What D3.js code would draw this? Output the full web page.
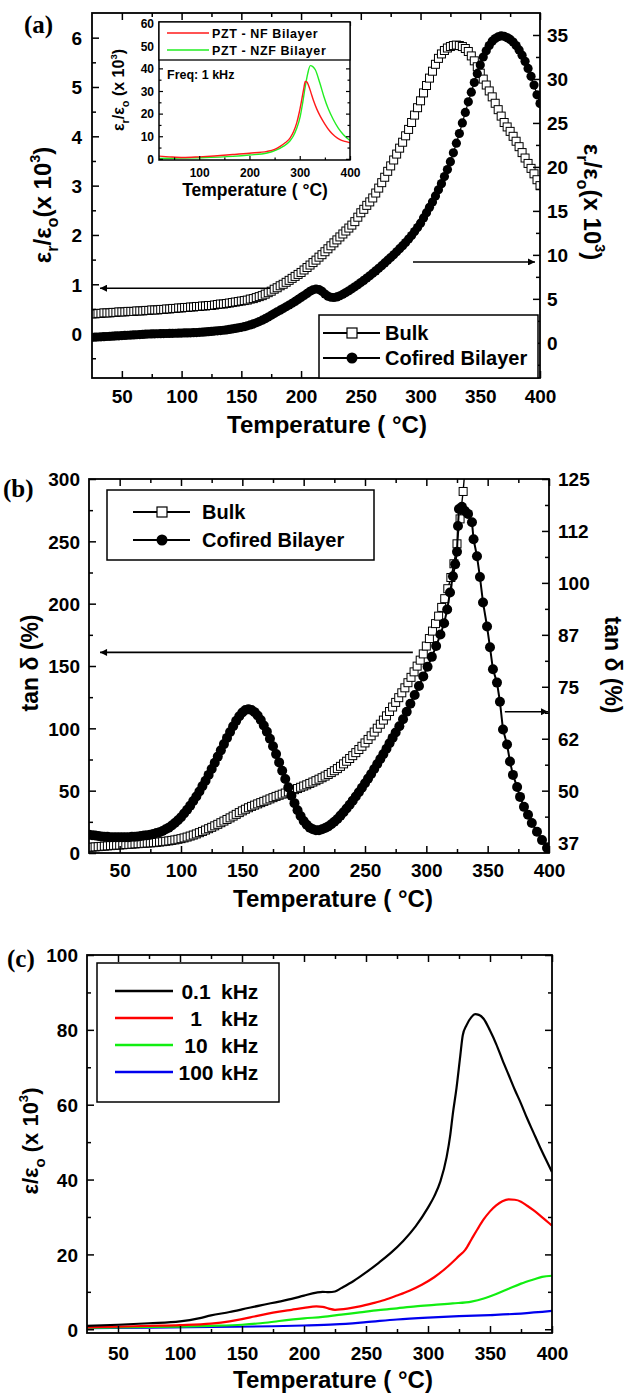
<!DOCTYPE html>
<html><head><meta charset="utf-8">
<script src="https://cdn.jsdelivr.net/npm/d3@7"></script>
<style>body{margin:0;background:#fff}</style>
</head><body><svg id="c" width="625" height="1395"></svg>
<script>
// ---------------- DATA ----------------
const tGrid = [25,27.5,30,32.5,35,37.5,40,42.5,45,47.5,
50,52.5,55,57.5,60,62.5,65,67.5,70,72.5,
75,77.5,80,82.5,85,87.5,90,92.5,95,97.5,
100,102.5,105,107.5,110,112.5,115,117.5,120,122.5,
125,127.5,130,132.5,135,137.5,140,142.5,145,147.5,
150,152.5,155,157.5,160,162.5,165,167.5,170,172.5,
175,177.5,180,182.5,185,187.5,190,192.5,195,197.5,
200,202.5,205,207.5,210,212.5,215,217.5,220,222.5,
225,227.5,230,232.5,235,237.5,240,242.5,245,247.5,
250,252.5,255,257.5,260,262.5,265,267.5,270,272.5,
275,277.5,280,282.5,285,287.5,290,292.5,295,297.5,
300,302.5,305,307.5,310,312.5,315,317.5,320,322.5,
325,327.5,330,332.5,335,337.5,340,342.5,345,347.5,
350,352.5,355,357.5,360,362.5,365,367.5,370,372.5,
375,377.5,380,382.5,385,387.5,390,392.5,395,397.5,
400];

// (a) Bulk, left axis (x 10^3)
const bulkA = [0.40,0.40,0.41,0.41,0.42,0.42,0.42,0.43,0.43,0.44,
0.44,0.44,0.45,0.45,0.45,0.46,0.46,0.46,0.47,0.47,
0.48,0.48,0.48,0.49,0.49,0.50,0.50,0.51,0.51,0.52,
0.52,0.53,0.53,0.54,0.54,0.55,0.55,0.56,0.56,0.57,
0.57,0.58,0.59,0.60,0.60,0.61,0.62,0.63,0.64,0.65,
0.66,0.67,0.68,0.70,0.71,0.73,0.75,0.77,0.80,0.83,
0.86,0.90,0.93,0.97,1.00,1.04,1.08,1.12,1.16,1.20,
1.24,1.29,1.34,1.39,1.44,1.49,1.55,1.60,1.66,1.72,
1.78,1.84,1.90,1.96,2.02,2.08,2.14,2.20,2.27,2.36,
2.45,2.52,2.60,2.67,2.75,2.85,2.95,3.06,3.17,3.29,
3.40,3.52,3.64,3.76,3.88,4.01,4.14,4.28,4.43,4.58,
4.72,4.88,5.03,5.18,5.32,5.46,5.58,5.67,5.74,5.79,
5.82,5.84,5.85,5.84,5.82,5.78,5.72,5.63,5.53,5.41,
5.28,5.16,5.04,4.92,4.80,4.67,4.54,4.41,4.28,4.19,
4.10,4.00,3.90,3.79,3.67,3.56,3.45,3.35,3.24,3.12,
3.00];

// (a) Cofired bilayer, right axis (x 10^3)
const cofA = [0.62,0.64,0.66,0.68,0.70,0.72,0.74,0.76,0.78,0.80,
0.82,0.84,0.86,0.88,0.90,0.92,0.94,0.96,0.98,1.00,
1.01,1.02,1.03,1.04,1.05,1.06,1.07,1.08,1.09,1.10,
1.11,1.12,1.13,1.14,1.15,1.17,1.19,1.21,1.24,1.27,
1.30,1.33,1.36,1.39,1.43,1.47,1.52,1.58,1.64,1.70,
1.76,1.84,1.93,2.03,2.15,2.28,2.42,2.57,2.74,2.93,
3.13,3.33,3.52,3.71,3.90,4.10,4.30,4.50,4.71,4.93,
5.16,5.38,5.62,5.85,6.03,6.12,6.05,5.85,5.55,5.30,
5.18,5.15,5.22,5.35,5.52,5.71,5.92,6.14,6.37,6.60,
6.85,7.10,7.36,7.62,7.90,8.18,8.47,8.77,9.08,9.40,
9.70,10.0,10.35,10.7,11.05,11.4,11.8,12.2,12.65,13.1,
13.6,14.2,14.8,15.4,16.0,16.7,17.4,18.1,18.9,19.7,
20.6,21.6,22.7,23.8,25.0,26.2,27.4,28.5,29.6,30.6,
31.6,32.5,33.2,33.8,34.3,34.6,34.8,34.9,34.85,34.7,
34.5,34.2,33.8,33.3,32.7,32.0,31.2,30.3,29.3,28.2,
27.2];

// (b) Bulk tan delta (%), left axis
const bulkB = [4.5,4.7,4.9,5.1,5.3,5.5,5.7,5.9,6.1,6.3,
6.4,6.6,6.8,6.9,7.1,7.3,7.5,7.6,7.8,8.0,
8.1,8.3,8.5,8.8,9.1,9.4,9.7,10.1,10.5,11.0,
11.5,12.1,12.8,13.6,14.4,15.3,16.3,17.3,18.4,19.5,
20.6,21.8,23.0,24.3,25.6,26.9,28.2,29.6,31.0,32.4,
33.8,35.1,36.3,37.4,38.4,39.4,40.4,41.4,42.4,43.4,
44.4,45.4,46.3,47.2,48.1,49.0,49.9,50.8,51.7,52.7,
53.7,54.7,55.8,56.9,58.0,59.2,60.4,61.7,63.0,64.5,
66.0,67.7,69.5,71.5,73.6,75.8,78.1,80.5,83.0,85.6,
88.3,91.1,94.0,97.0,100.1,103.3,106.6,110.0,113.5,117.1,
120.8,124.6,128.5,132.5,136.6,140.9,145.3,149.9,154.7,159.7,
166,172,178,184,190,197,204,212,221,232,
248,268,290,320];

// (b) Cofired tan delta (%), right axis: dense part on tGrid (25..275) + measured tail
const cofB_low = [39.4,39.3,39.2,39.1,39.0,38.9,38.9,38.8,38.8,38.8,
38.8,38.8,38.8,38.8,38.9,38.9,39.0,39.1,39.2,39.3,
39.4,39.6,39.8,40.0,40.3,40.7,41.1,41.6,42.2,42.9,
43.6,44.5,45.4,46.4,47.5,48.6,49.8,51.1,52.4,53.8,
55.2,56.7,58.2,59.7,61.2,62.7,64.1,65.5,66.8,67.9,
68.8,69.4,69.6,69.4,68.9,68.1,67.0,65.7,64.2,62.5,
60.7,58.8,56.8,54.8,52.8,50.8,48.8,47.0,45.3,43.9,
42.7,41.8,41.1,40.7,40.5,40.5,40.7,41.0,41.4,41.9,
42.5,43.2,44.0,44.8,45.7,46.6,47.6,48.6,49.6,50.7,
51.8,52.9,54.0,55.2,56.4,57.6,58.8,60.1,61.4,62.7,
64.0];
const cofB_tailT = [278,281,284,287,290.5,294,297.5,301,304.5,308,
311.5,314.5,317,319.3,321.7,323.5,325,325.8,326.6,329,
331.5,334,337.2,338.5,341.3,343.7,346.2,349.5,351.9,354.3,
357.6,360,362.5,365.8,368.2,370.6,374,376.4,379.6,382.9,
386,390.2,394.3,398.4,400];
const cofB_tailV = [65.5,67.2,69.0,70.9,73.0,75.2,77.5,79.8,82.2,84.8,
87.6,90.3,93.6,97.7,101.6,104.5,107.5,113.7,117.8,118.3,
117.3,116.6,114.6,110.5,106.4,101.4,95.3,89.5,84.5,79.2,
76,71.4,64.7,61.1,57,53.8,50.9,48.5,46.1,44.2,
42.2,40.1,38.1,36.2,35.6];

// (c) frequency curves
const c01T = [25,50,75,100,115,125,140,150,165,180,190,200,210,215,220,225,230,240,250,260,270,280,290,300,305,310,315,318,320,323,326,328,331,335,338,341,345,350,355,360,365,370,375,380,385,390,395,400];
const c01V = [0.9,1.2,1.6,2.1,2.9,3.7,4.6,5.3,6.4,7.4,8.1,9.0,9.8,10.0,9.9,10.1,11.0,12.9,15.2,17.7,20.4,23.6,27.5,32.5,35.5,39.5,46,52,57.5,64.5,73,78.5,81.2,83.4,84.2,84.0,82.9,79.8,76.2,72,68,64,60.3,56.3,52.6,48.9,45.4,42.0];
const c1T = [25,50,75,100,125,140,150,160,170,180,190,200,210,215,220,225,235,245,255,265,275,285,295,305,315,325,330,335,340,345,350,355,360,365,370,375,380,385,390,395,400];
const c1V = [0.5,0.7,0.9,1.1,1.5,2.1,2.7,3.4,4.1,4.7,5.2,5.7,6.1,6.0,5.5,5.2,5.5,6.1,6.9,7.8,9.0,10.3,11.9,13.9,16.5,19.6,21.2,24,26.8,29.4,31.5,33.1,34.2,34.7,34.6,34.1,33.0,31.8,30.5,29.1,27.7];
const c10T = [25,50,75,100,125,150,165,180,200,215,230,245,260,275,290,305,320,335,345,355,365,375,385,392,400];
const c10V = [0.4,0.5,0.6,0.7,0.9,1.2,1.6,2.2,2.9,3.3,3.9,4.5,5.1,5.6,6.1,6.5,6.9,7.4,8.2,9.4,10.8,12.2,13.3,14.0,14.3];
const c100T = [25,75,125,175,200,225,250,275,300,325,350,375,400];
const c100V = [0.3,0.4,0.6,0.8,1.0,1.3,1.9,2.6,3.1,3.5,3.8,4.2,4.9];
const freqLabels = ["0.1", "1", "10", "100"];

// inset
const inNF_T = [20,40,68,100,130,167,200,235,250,261,271,281,288,294,299,304,308,311,314,317,322,327,334,341,350,360,370,380,390,400];
const inNF_V = [1.2,0.9,0.6,0.9,1.3,1.9,2.5,3.3,4.2,5.5,7.1,9.3,12.2,15.9,20.5,26.2,31.0,34.2,34.0,32.8,29.5,26.0,22.0,18.8,15.4,12.2,10.0,8.5,7.7,7.1];
const inNZF_T = [20,50,100,167,200,235,267,280,287,294,301,306,311,316,321,326,331,340,348,357,367,377,387,400];
const inNZF_V = [0.2,0.3,0.5,1.1,1.7,2.6,5.5,7.8,10,13.5,18.8,25,32,37.8,41.2,40.8,39.4,33.5,27.6,22,17.3,13.5,10.7,8.1];

// ticks
const tempMajor = [50,100,150,200,250,300,350,400];
const tempMinor = [75,125,175,225,275,325,375];
const aLeftMajor = [0,1,2,3,4,5,6], aLeftMinor = [-0.5,0.5,1.5,2.5,3.5,4.5,5.5];
const aRightMajor = [0,5,10,15,20,25,30,35], aRightMinor = [-2.5,2.5,7.5,12.5,17.5,22.5,27.5,32.5];
const bLeftMajor = [0,50,100,150,200,250,300], bLeftMinor = [25,75,125,175,225,275];
const bRightMajor = [37.5,50,62.5,75,87.5,100,112.5,125], bRightMinor = [43.75,56.25,68.75,81.25,93.75,106.25,118.75];
const cMajor = [0,20,40,60,80,100], cMinor = [10,30,50,70,90];
const inXMajor = [100,200,300,400], inXMinor = [50,150,250,350];
const inYMajor = [0,10,20,30,40,50,60], inYMinor = [5,15,25,35,45,55];

// ---------------- DRAW ----------------
const FONT = "'Liberation Sans', Arial, Helvetica, sans-serif";
const SERIF = "'Liberation Serif', 'Times New Roman', serif";
const svg = d3.select("#c");
const defs = svg.append("defs");
defs.append("marker").attr("id", "ah").attr("viewBox", "0 0 10 10").attr("refX", 10).attr("refY", 5)
  .attr("markerUnits", "userSpaceOnUse").attr("markerWidth", 11).attr("markerHeight", 7).attr("orient", "auto")
  .append("path").attr("d", "M0,0L10,5L0,10z").attr("fill", "#000");

function clip(id, x, y) {
  const [x0, x1] = x.range(), [y0, y1] = y.range();
  defs.append("clipPath").attr("id", id).append("rect").attr("x", x0).attr("y", y1).attr("width", x1 - x0).attr("height", y0 - y1);
  return svg.append("g").attr("clip-path", `url(#${id})`);
}

function axes(g, x, y, o) {
  const [xl, xr] = x.range(), [yb, yt] = y.range();
  const blank = () => "";
  function add(axis, tx, ty) {
    const a = g.append("g").attr("transform", `translate(${tx},${ty})`).call(axis);
    a.select(".domain").remove();
    a.selectAll(".tick line").attr("stroke", "#000").attr("stroke-width", o.tw || 1.5);
    a.selectAll(".tick text").attr("fill", "#000").style("font-family", FONT).style("font-weight", "bold").style("font-size", o.fs + "px");
    return a;
  }
  const bx = add(d3.axisBottom(x).tickValues(o.xMajor).tickSize(-o.maj).tickFormat(d3.format("d")), 0, yb);
  bx.selectAll(".tick text").attr("y", o.xLab).attr("dy", 0);
  add(d3.axisBottom(x).tickValues(o.xMinor).tickSize(-o.min).tickFormat(blank), 0, yb);
  add(d3.axisTop(x).tickValues(o.xMajor).tickSize(-o.maj).tickFormat(blank), 0, yt);
  add(d3.axisTop(x).tickValues(o.xMinor).tickSize(-o.min).tickFormat(blank), 0, yt);
  const ly = add(d3.axisLeft(y).tickValues(o.yMajor).tickSize(-o.maj).tickPadding(o.yPad).tickFormat(o.yFmt || d3.format("d")), xl, 0);
  ly.selectAll(".tick text").attr("dy", "0.36em");
  add(d3.axisLeft(y).tickValues(o.yMinor).tickSize(-o.min).tickFormat(blank), xl, 0);
  const yr = o.yR || y;
  const rMaj = o.yR ? o.yRMajor : o.yMajor, rMin = o.yR ? o.yRMinor : o.yMinor;
  const ry = add(d3.axisRight(yr).tickValues(rMaj).tickSize(-o.maj).tickPadding(o.yRPad || 8)
    .tickFormat(o.yR ? (o.yRFmt || d3.format("d")) : blank), xr, 0);
  ry.selectAll(".tick text").attr("dy", "0.36em");
  add(d3.axisRight(yr).tickValues(rMin).tickSize(-o.min).tickFormat(blank), xr, 0);
  g.append("rect").attr("x", xl).attr("y", yt).attr("width", xr - xl).attr("height", yb - yt)
    .attr("fill", "none").attr("stroke", "#000").attr("stroke-width", o.fw || 1.8);
}

function rich(parent, x, y, rot, parts, fs, anchor) {
  const t = parent.append("text").attr("transform", `translate(${x},${y}) rotate(${rot})`)
    .attr("text-anchor", anchor || "middle").attr("fill", "#000")
    .style("font-size", fs + "px").style("font-family", FONT).style("font-weight", "bold");
  let cur = 0;
  parts.forEach(p => {
    let off = 0, size = fs;
    if (p.sub) { off = fs * 0.3; size = fs * 0.68; }
    if (p.sup) { off = -fs * 0.45; size = fs * 0.6; }
    t.append("tspan").attr("dy", off - cur).style("font-size", size + "px").text(p.t);
    cur = off;
  });
  return t;
}
function label(x, y, txt, fs, anchor, fam) {
  return svg.append("text").attr("x", x).attr("y", y).attr("text-anchor", anchor || "start").attr("fill", "#000")
    .style("font-family", fam || FONT).style("font-weight", "bold").style("font-size", fs + "px").text(txt);
}
const pairs = (T, V) => T.map((t, i) => [t, V[i]]);
function drawLine(g, x, y, data, color, w, curve) {
  g.append("path").datum(data).attr("fill", "none").attr("stroke", color).attr("stroke-width", w)
    .attr("stroke-linejoin", "round")
    .attr("d", d3.line().x(d => x(d[0])).y(d => y(d[1])).curve(curve || d3.curveLinear));
}
function drawSquares(g, x, y, data, s) {
  g.append("g").selectAll("rect").data(data).join("rect")
    .attr("x", d => x(d[0]) - s / 2).attr("y", d => y(d[1]) - s / 2).attr("width", s).attr("height", s)
    .attr("fill", "#fff").attr("stroke", "#000").attr("stroke-width", 1);
}
function drawCircles(g, x, y, data, r) {
  g.append("g").selectAll("circle").data(data).join("circle")
    .attr("cx", d => x(d[0])).attr("cy", d => y(d[1])).attr("r", r).attr("fill", "#000");
}
function arrow(x, y, from, to) {
  svg.append("line").attr("x1", x(from[0])).attr("y1", y(from[1])).attr("x2", x(to[0])).attr("y2", y(to[1]))
    .attr("stroke", "#000").attr("stroke-width", 1.6).attr("marker-end", "url(#ah)");
}
const epsParts = [{t: "ε"}, {t: "r", sub: true}, {t: "/ε"}, {t: "o", sub: true}, {t: "(x 10"}, {t: "3", sup: true}, {t: ")"}];

// ===== Panel (a) =====
const xA = d3.scaleLinear([25, 400], [92, 540]);
const yAL = d3.scaleLinear([-0.9, 6.5], [378, 13]);
const yAR = d3.scaleLinear([-4, 37.5], [378, 13]);
const gA = clip("clipA", xA, yAL);
const bulkAData = pairs(tGrid, bulkA), cofAData = pairs(tGrid, cofA);
drawLine(gA, xA, yAL, bulkAData, "#000", 1.2);
drawSquares(gA, xA, yAL, bulkAData, 8);
drawLine(gA, xA, yAR, cofAData, "#000", 1.2);
drawCircles(gA, xA, yAR, cofAData, 4.6);
axes(svg.append("g"), xA, yAL, {xMajor: tempMajor, xMinor: tempMinor, yMajor: aLeftMajor, yMinor: aLeftMinor,
  yR: yAR, yRMajor: aRightMajor, yRMinor: aRightMinor, maj: 7, min: 4, fs: 19, xLab: 25, yPad: 10, yRPad: 7});
arrow(xA, yAL, [174, 0.92], [31.7, 0.92]);
arrow(xA, yAR, [293.7, 9.19], [395.8, 9.19]);
// legend (a)
{
  const g = svg.append("g");
  g.append("rect").attr("x", 319).attr("y", 315).attr("width", 219).attr("height", 63).attr("fill", "#fff").attr("stroke", "#000").attr("stroke-width", 1.5);
  [[333, "Bulk", "sq"], [358, "Cofired Bilayer", "ci"]].forEach(([yy, txt, m]) => {
    g.append("line").attr("x1", 323).attr("x2", 380).attr("y1", yy).attr("y2", yy).attr("stroke", "#000").attr("stroke-width", 2);
    if (m === "sq") g.append("rect").attr("x", 347).attr("y", yy - 5).attr("width", 10).attr("height", 10).attr("fill", "#fff").attr("stroke", "#000").attr("stroke-width", 1.2);
    else g.append("circle").attr("cx", 352).attr("cy", yy).attr("r", 5.5).attr("fill", "#000");
    g.append("text").attr("x", 385).attr("y", yy + 7).attr("fill", "#000").style("font-family", FONT).style("font-weight", "bold").style("font-size", "20px").text(txt);
  });
}
label(327, 433, "Temperature ( °C)", 24, "middle");
rich(svg, 51, 205, -90, epsParts, 24);
rich(svg, 584, 202, 90, epsParts, 24);
label(24, 33, "(a)", 25, "start", SERIF);

// inset
{
  const xI = d3.scaleLinear([20, 400], [159, 350]);
  const yI = d3.scaleLinear([-0.5, 60.5], [160, 22]);
  svg.append("rect").attr("x", 159).attr("y", 22).attr("width", 191).attr("height", 138).attr("fill", "#fff");
  const gI = clip("clipI", xI, yI);
  drawLine(gI, xI, yI, pairs(inNZF_T, inNZF_V), "#22ee22", 1.4, d3.curveMonotoneX);
  drawLine(gI, xI, yI, pairs(inNF_T, inNF_V), "#ff1a1a", 1.4, d3.curveMonotoneX);
  axes(svg.append("g"), xI, yI, {xMajor: inXMajor, xMinor: inXMinor, yMajor: inYMajor, yMinor: inYMinor,
    maj: 4, min: 2.5, fs: 12, xLab: 17, yPad: 5, tw: 1.2, fw: 1.5});
  const g = svg.append("g");
  g.append("rect").attr("x", 159).attr("y", 22).attr("width", 191).attr("height", 38).attr("fill", "#fff").attr("stroke", "#000").attr("stroke-width", 1.3);
  [[33, "PZT - NF Bilayer", "#ff1a1a"], [50, "PZT - NZF Bilayer", "#22ee22"]].forEach(([yy, txt, c]) => {
    g.append("line").attr("x1", 167).attr("x2", 209).attr("y1", yy).attr("y2", yy).attr("stroke", c).attr("stroke-width", 1.5);
    g.append("text").attr("x", 212).attr("y", yy + 4.5).attr("fill", "#000").style("font-family", FONT).style("font-weight", "bold").style("font-size", "12.5px").style("letter-spacing", "0.6px").text(txt);
  });
  label(167, 79, "Freq: 1 kHz", 12.5, "start");
  label(255, 196, "Temperature ( °C)", 17.5, "middle");
  rich(svg, 124, 90, -90, [{t: "ε"}, {t: "r", sub: true}, {t: "/ε"}, {t: "o", sub: true}, {t: " (x 10"}, {t: "3", sup: true}, {t: ")"}], 16);
}

// ===== Panel (b) =====
const xB = d3.scaleLinear([25, 400], [89, 549]);
const yBL = d3.scaleLinear([0, 300], [853, 479]);
const yBR = d3.scaleLinear([35, 125], [853, 479]);
const gB = clip("clipB", xB, yBL);
const bulkBData = pairs(tGrid.slice(0, bulkB.length), bulkB);
const cofBData = pairs(tGrid.slice(0, cofB_low.length).concat(cofB_tailT), cofB_low.concat(cofB_tailV));
drawLine(gB, xB, yBL, bulkBData, "#000", 1.4);
drawSquares(gB, xB, yBL, bulkBData, 8);
drawLine(gB, xB, yBR, cofBData, "#000", 2);
drawCircles(gB, xB, yBR, cofBData, 5);
axes(svg.append("g"), xB, yBL, {xMajor: tempMajor, xMinor: tempMinor, yMajor: bLeftMajor, yMinor: bLeftMinor,
  yR: yBR, yRMajor: bRightMajor, yRMinor: bRightMinor, yRFmt: d => String(Math.floor(d)),
  maj: 7, min: 4, fs: 19, xLab: 24, yPad: 9, yRPad: 9});
arrow(xB, yBL, [289, 160.9], [34, 160.9]);
arrow(xB, yBR, [364, 69], [399.2, 69]);
{
  const g = svg.append("g");
  g.append("rect").attr("x", 107).attr("y", 490).attr("width", 267).attr("height", 70).attr("fill", "#fff").attr("stroke", "#000").attr("stroke-width", 1.5);
  [[512, "Bulk", "sq"], [540, "Cofired Bilayer", "ci"]].forEach(([yy, txt, m]) => {
    g.append("line").attr("x1", 133).attr("x2", 190).attr("y1", yy).attr("y2", yy).attr("stroke", "#000").attr("stroke-width", 2);
    if (m === "sq") g.append("rect").attr("x", 157).attr("y", yy - 5).attr("width", 10).attr("height", 10).attr("fill", "#fff").attr("stroke", "#000").attr("stroke-width", 1.2);
    else g.append("circle").attr("cx", 162).attr("cy", yy).attr("r", 5.5).attr("fill", "#000");
    g.append("text").attr("x", 202).attr("y", yy + 7).attr("fill", "#000").style("font-family", FONT).style("font-weight", "bold").style("font-size", "20px").text(txt);
  });
}
label(333, 907, "Temperature ( °C)", 24, "middle");
rich(svg, 38, 663, -90, [{t: "tan δ (%)"}], 23);
rich(svg, 605, 665, 90, [{t: "tan δ (%)"}], 23);
label(3, 497, "(b)", 25, "start", SERIF);

// ===== Panel (c) =====
const xC = d3.scaleLinear([25, 400], [87, 552]);
const yC = d3.scaleLinear([-1, 100], [1333, 955]);
const gC = clip("clipC", xC, yC);
const cSeries = [[c01T, c01V, "#000"], [c1T, c1V, "#ff0000"], [c10T, c10V, "#11ee11"], [c100T, c100V, "#0000ee"]];
cSeries.slice().reverse().forEach(([T, V, col]) => drawLine(gC, xC, yC, pairs(T, V), col, 2.2, d3.curveMonotoneX));
axes(svg.append("g"), xC, yC, {xMajor: tempMajor, xMinor: tempMinor, yMajor: cMajor, yMinor: cMinor,
  maj: 7, min: 4, fs: 19, xLab: 27, yPad: 9});
{
  const g = svg.append("g");
  g.append("rect").attr("x", 97).attr("y", 963).attr("width", 182).attr("height", 139).attr("fill", "#fff").attr("stroke", "#000").attr("stroke-width", 1.5);
  cSeries.forEach(([T, V, col], i) => {
    const yy = 991 + i * 27;
    g.append("line").attr("x1", 115).attr("x2", 173).attr("y1", yy).attr("y2", yy).attr("stroke", col).attr("stroke-width", 2.5);
    g.append("text").attr("x", 196).attr("y", yy + 8).attr("text-anchor", "middle").attr("fill", "#000").style("font-family", FONT).style("font-weight", "bold").style("font-size", "21px").text(freqLabels[i]);
    g.append("text").attr("x", 221).attr("y", yy + 8).attr("fill", "#000").style("font-family", FONT).style("font-weight", "bold").style("font-size", "21px").text("kHz");
  });
}
label(333, 1388, "Temperature ( °C)", 24, "middle");
rich(svg, 38, 1141, -90, [{t: "ε/ε"}, {t: "o", sub: true}, {t: " (x 10"}, {t: "3", sup: true}, {t: ")"}], 22);
label(7, 967, "(c)", 25, "start", SERIF);
</script></body></html>
